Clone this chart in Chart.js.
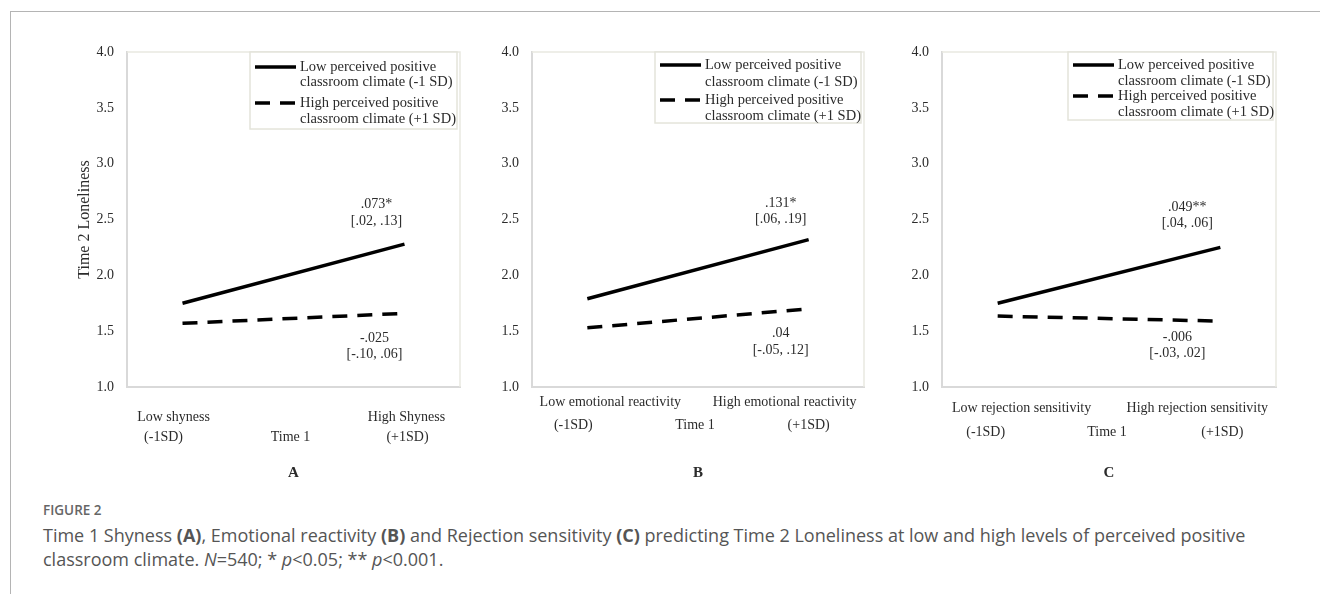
<!DOCTYPE html>
<html>
<head>
<meta charset="utf-8">
<script src="https://cdn.jsdelivr.net/npm/chart.js@4.4.0/dist/chart.umd.min.js"></script>
<style>
  body {
    margin: 0;
    background: #fff;
    width: 1320px;
    height: 594px;
    overflow: hidden;
    position: relative;
  }
  #frame {
    position: absolute;
    left: 10px;
    top: 11px;
    right: 0;
    bottom: 0;
    border-top: 1.5px solid #b4b4b4;
    border-left: 1.5px solid #b4b4b4;
  }
  canvas {
    position: absolute;
    top: 20px;
  }
  #fig {
    position: absolute;
    left: 43px;
    top: 501px;
    font-family: "Open Sans", sans-serif;
    font-weight: 600;
    font-size: 13.5px;
    color: #666;
  }
  #cap {
    position: absolute;
    left: 43px;
    top: 523px;
    font-family: "Open Sans", sans-serif;
    font-size: 18px;
    line-height: 24px;
    color: #555;
    white-space: nowrap;
  }
</style>
</head>
<body>
<div id="frame"></div>
<canvas id="panel-a" width="440" height="460" style="left:30px"></canvas>
<canvas id="panel-b" width="440" height="460" style="left:435px"></canvas>
<canvas id="panel-c" width="440" height="460" style="left:845px"></canvas>
<div id="fig">FIGURE 2</div>
<div id="cap">Time 1 Shyness <b>(A)</b>, Emotional reactivity <b>(B)</b> and Rejection sensitivity <b>(C)</b> predicting Time 2 Loneliness at low and high levels of perceived positive<br>classroom climate. <i>N</i>=540; * <i>p</i>&lt;0.05; ** <i>p</i>&lt;0.001.</div>

<script>
const seriesNames = [
  ["Low perceived positive", "classroom climate (-1 SD)"],
  ["High perceived positive", "classroom climate (+1 SD)"],
];
const yMin = 1.0;
const yMax = 4.0;
const yStep = 0.5;

const shynessLabels = [["Low shyness", "(-1SD)"], ["", "Time 1"], ["High Shyness", "(+1SD)"]];
const shynessLow = [1.75, null, 2.28];
const shynessHigh = [1.57, null, 1.66];
const shynessNotes = [[".073*", "[.02, .13]"], ["-.025", "[-.10, .06]"]];

const reactivityLabels = [["Low emotional reactivity", "(-1SD)"], ["", "Time 1"], ["High emotional reactivity", "(+1SD)"]];
const reactivityLow = [1.79, null, 2.32];
const reactivityHigh = [1.53, null, 1.7];
const reactivityNotes = [[".131*", "[.06, .19]"], [".04", "[-.05, .12]"]];

const rejectionLabels = [["Low rejection sensitivity", "(-1SD)"], ["", "Time 1"], ["High rejection sensitivity", "(+1SD)"]];
const rejectionLow = [1.75, null, 2.25];
const rejectionHigh = [1.635, null, 1.59];
const rejectionNotes = [[".049**", "[.04, .06]"], ["-.006", "[-.03, .02]"]];

const serif = "'Liberation Serif', 'Times New Roman', serif";
const ink = "#2b2b2b";

// frame, legend box, category labels, slope notes and panel letter
const panelText = {
  id: "panelText",
  beforeDatasetsDraw(chart) {
    const { ctx, chartArea: a } = chart;
    ctx.save();
    ctx.strokeStyle = "#e9e9e1";
    ctx.lineWidth = 1.5;
    ctx.beginPath();
    ctx.moveTo(a.left, a.top);
    ctx.lineTo(a.right, a.top);
    ctx.lineTo(a.right, a.bottom);
    ctx.stroke();
    ctx.restore();
  },
  afterDraw(chart, args, opts) {
    const { ctx, chartArea: a } = chart;
    const x = chart.scales.x;
    ctx.save();
    ctx.fillStyle = ink;
    ctx.textBaseline = "middle";

    // legend
    const lg = opts.legend;
    const left = a.right - 3 - lg.width;
    ctx.fillStyle = "#fff";
    ctx.fillRect(left, a.top, lg.width, lg.height);
    ctx.strokeStyle = "#e4e4da";
    ctx.lineWidth = 1.5;
    ctx.strokeRect(left, a.top, lg.width, lg.height);
    chart.data.datasets.forEach((ds, i) => {
      const y1 = a.top + lg.rows[i * 2];
      const y2 = a.top + lg.rows[i * 2 + 1];
      ctx.strokeStyle = ds.borderColor;
      ctx.lineWidth = ds.borderWidth;
      ctx.setLineDash(ds.borderDash || []);
      ctx.beginPath();
      ctx.moveTo(left + 5, y1);
      ctx.lineTo(left + 46, y1);
      ctx.stroke();
      ctx.setLineDash([]);
      ctx.fillStyle = ink;
      ctx.font = "14.5px " + serif;
      ctx.textAlign = "left";
      ctx.fillText(seriesNames[i][0], left + 50, y1);
      ctx.fillText(seriesNames[i][1], left + 50, y2);
    });

    // category labels under the axis
    ctx.font = "14px " + serif;
    ctx.textAlign = "center";
    opts.labels.forEach((lines, i) => {
      const px = x.getPixelForValue(i);
      lines.forEach((t, j) => {
        if (!t) return;
        ctx.fillText(t, px + opts.shift[i][j], a.bottom + opts.rows[j]);
      });
    });

    // slope notes beside the line ends
    opts.notes.forEach((n, i) => {
      const pt = chart.getDatasetMeta(i).data[2];
      n.lines.forEach((t, j) => {
        ctx.fillText(t, pt.x + n.dx, pt.y + n.dy[j]);
      });
    });

    ctx.font = "bold 15px " + serif;
    ctx.fillText(opts.letter, x.getPixelForValue(1), a.bottom + 86);
    ctx.restore();
  },
};

function makePanel(id, cats, low, high, text, yTitle, padRight) {
  const ctx = document.getElementById(id).getContext("2d");
  return new Chart(ctx, {
    type: "line",
    data: {
      labels: cats,
      datasets: [
        {
          label: seriesNames[0].join(" "),
          data: low,
          borderColor: "#000",
          borderWidth: 3.5,
          pointRadius: 0,
          spanGaps: true,
          tension: 0,
        },
        {
          label: seriesNames[1].join(" "),
          data: high,
          borderColor: "#000",
          borderWidth: 3.5,
          borderDash: [15, 10],
          pointRadius: 0,
          spanGaps: true,
          tension: 0,
        },
      ],
    },
    options: {
      responsive: false,
      animation: false,
      layout: {
        padding: { top: 32, right: padRight, bottom: 20, left: 0 },
      },
      plugins: {
        legend: { display: false },
        tooltip: { enabled: false },
        panelText: text,
      },
      scales: {
        x: {
          type: "category",
          offset: true,
          grid: { display: false },
          border: { color: "#d9d9d9", width: 2 },
          ticks: { display: false },
          afterFit: (s) => {
            s.height = 73;
          },
        },
        y: {
          min: yMin,
          max: yMax,
          grid: { display: false, drawTicks: false },
          border: { color: "#d9d9d9", width: 2 },
          ticks: {
            stepSize: yStep,
            padding: 13,
            color: ink,
            font: { family: serif, size: 14 },
            callback: (v) => v.toFixed(1),
          },
          title: {
            display: !!yTitle,
            text: yTitle,
            color: ink,
            font: { family: serif, size: 16 },
            padding: { top: 45, bottom: 0 },
          },
          afterFit: (s) => {
            s.width = 97;
          },
        },
      },
    },
    plugins: [panelText],
  });
}

document.addEventListener("DOMContentLoaded", () => {
  makePanel("panel-a", shynessLabels, shynessLow, shynessHigh, {
    labels: shynessLabels,
    shift: [[-9, -19], [0, -3], [2, 3]],
    rows: [30, 50],
    letter: "A",
    legend: { width: 207, height: 77, rows: [15, 30, 51, 67] },
    notes: [
      { lines: shynessNotes[0], dx: -28, dy: [-40, -23] },
      { lines: shynessNotes[1], dx: -30, dy: [25, 41] },
    ],
  }, "Time 2 Loneliness", 10);

  makePanel("panel-b", reactivityLabels, reactivityLow, reactivityHigh, {
    labels: reactivityLabels,
    shift: [[23, -14], [0, -3], [-24, 0]],
    rows: [15, 38],
    letter: "B",
    legend: { width: 206, height: 71, rows: [13, 30, 48, 64] },
    notes: [
      { lines: reactivityNotes[0], dx: -28, dy: [-36, -20] },
      { lines: reactivityNotes[1], dx: -28, dy: [24, 41] },
    ],
  }, "", 11);

  makePanel("panel-c", rejectionLabels, rejectionLow, rejectionHigh, {
    labels: rejectionLabels,
    shift: [[24, -12], [0, -2], [-23, 2]],
    rows: [21, 45],
    letter: "C",
    legend: { width: 205, height: 68, rows: [13, 29, 44, 60] },
    notes: [
      { lines: rejectionNotes[0], dx: -33, dy: [-40, -24] },
      { lines: rejectionNotes[1], dx: -43, dy: [16, 32] },
    ],
  }, "", 9);
});
</script>
</body>
</html>
